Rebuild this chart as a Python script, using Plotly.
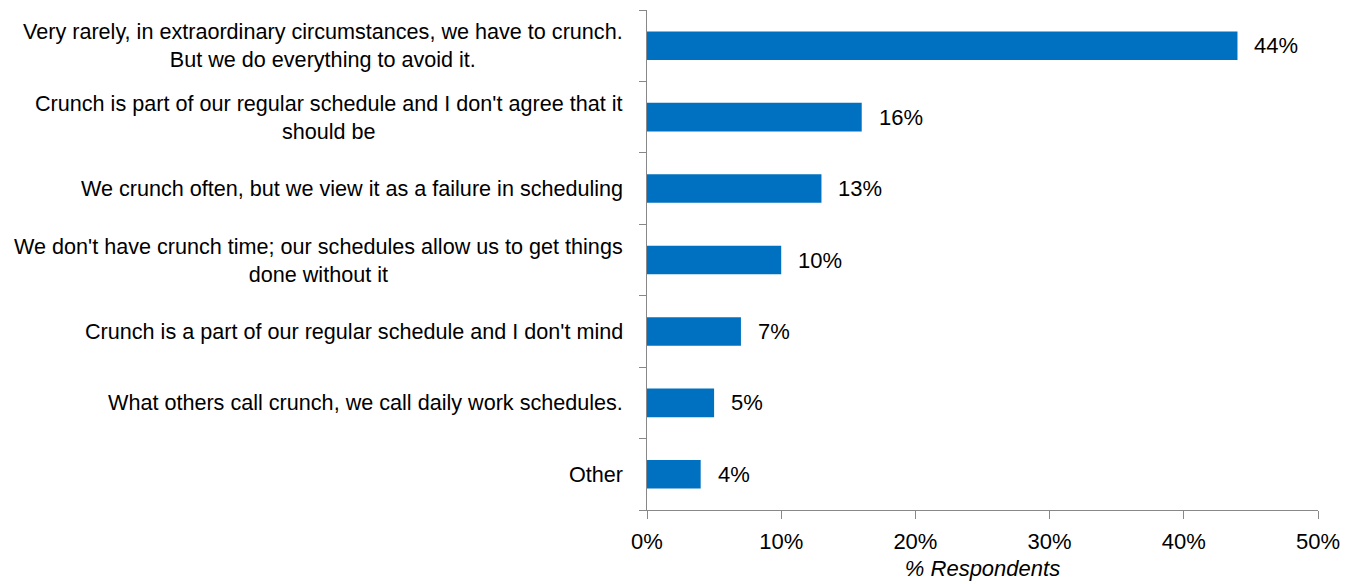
import plotly.graph_objects as go

categories = [
    "Very rarely, in extraordinary circumstances, we have to crunch.<br>But we do everything to avoid it.",
    "Crunch is part of our regular schedule and I don't agree that it<br>should be",
    "We crunch often, but we view it as a failure in scheduling",
    "We don't have crunch time; our schedules allow us to get things<br>done without it",
    "Crunch is a part of our regular schedule and I don't mind",
    "What others call crunch, we call daily work schedules.",
    "Other",
]
values = [44, 16, 13, 10, 7, 5, 4]
x_ticks = [0, 10, 20, 30, 40, 50]
x_ticklabels = ["0%", "10%", "20%", "30%", "40%", "50%"]

FONT = "Liberation Sans Narrow, Arial Narrow, Liberation Sans, Arial, sans-serif"
BLUE = "#0070C0"
TXT = "#000000"

fig = go.Figure()
fig.add_trace(go.Bar(
    x=values, y=categories, orientation="h",
    marker=dict(color=BLUE, line=dict(width=0)),
    width=0.4,
    hoverinfo="skip",
))

annotations = []
for c, v in zip(categories, values):
    annotations.append(dict(x=v, y=c, xref="x", yref="y", text=f"{v}%",
                            showarrow=False, xanchor="left", xshift=15,
                            font=dict(family=FONT, size=22, color=TXT)))
    annotations.append(dict(x=0, y=c, xref="paper", yref="y", text=c,
                            showarrow=False, xanchor="right", align="center",
                            xshift=-22,
                            font=dict(family=FONT, size=21.6, color=TXT)))

fig.update_layout(
    width=1350, height=576,
    margin=dict(l=639, r=40, t=2, b=74),
    paper_bgcolor="white", plot_bgcolor="white",
    showlegend=False,
    annotations=annotations,
    font=dict(family=FONT, size=22, color=TXT),
    xaxis=dict(
        range=[0, 50], tickvals=x_ticks, ticktext=x_ticklabels,
        showgrid=False, zeroline=False,
        showline=True, linecolor="#888", linewidth=1,
        ticks="outside", ticklen=8, tickcolor="#888",
        ticklabelstandoff=4,
        tickfont=dict(family=FONT, size=22, color=TXT),
        title=dict(text="<i>% Respondents</i>", standoff=7,
                   font=dict(family=FONT, size=22, color=TXT)),
        fixedrange=True,
    ),
    yaxis=dict(
        categoryorder="array", categoryarray=categories[::-1],
        showticklabels=False, showgrid=False, zeroline=False,
        showline=True, linecolor="#888", linewidth=1,
        ticks="outside", ticklen=7, tickcolor="#888",
        tickson="boundaries",
        fixedrange=True,
    ),
)

fig.write_html("out.html")
